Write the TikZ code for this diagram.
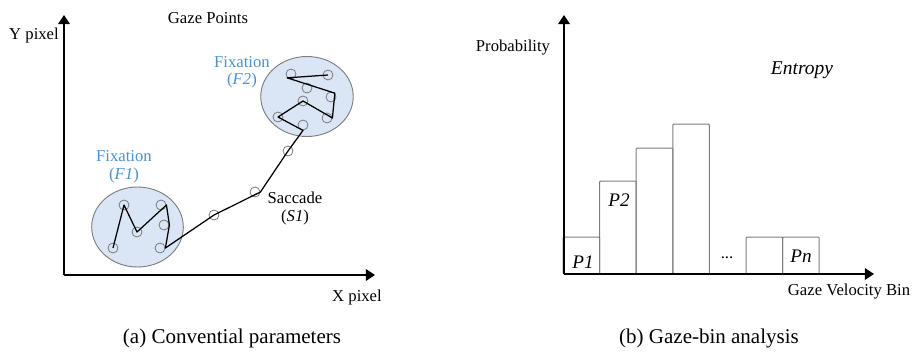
\documentclass[tikz,border=0pt]{standalone}
\usepackage{fontspec}
\setmainfont{Liberation Serif}
\usetikzlibrary{arrows.meta,shapes.geometric}
\definecolor{fixblue}{RGB}{75,145,205}
\definecolor{fixfill}{RGB}{218,230,245}
\definecolor{rimgray}{RGB}{125,125,125}
\tikzset{
  axis/.style={line width=0.9pt,-{Triangle[width=7pt,length=5.5pt]}},
  gazept/.style={circle,draw=rimgray,line width=0.5pt,minimum size=6pt,inner sep=0pt},
  fixzone/.style={ellipse,draw=rimgray,fill=fixfill,line width=0.55pt,minimum width=55pt,minimum height=48pt,inner sep=0pt},
  scanpath/.style={line width=0.75pt,line join=round},
  binbox/.style={draw=rimgray,line width=0.6pt,rounded corners=0.6pt},
  fixlabel/.style={text=fixblue,font=\fontsize{10}{12}\selectfont},
  axlabel/.style={font=\fontsize{10}{12}\selectfont},
  caption/.style={font=\fontsize{12.6}{15}\selectfont}
}
\begin{document}
\begin{tikzpicture}[x=0.6pt,y=-0.6pt]
  \useasboundingbox (0,0) rectangle (912,353);
  % conventional parameters
  \node[fixzone] (f1) at (137.5,227) {};
  \node[fixzone,minimum width=55.5pt] (f2) at (307,96.5) {};
  \coordinate (o1) at (64,275);
  \coordinate (ytip1) at (64,15);
  \coordinate (xtip1) at (375,275);
  \draw[axis] (o1) -- (ytip1);
  \draw[axis] (o1) -- (xtip1);
  \node[gazept] (c1) at (113,248) {};
  \node[gazept] (c2) at (124,205) {};
  \node[gazept] (c3) at (137,232) {};
  \node[gazept] (c4) at (161,205) {};
  \node[gazept] (c5) at (164,225) {};
  \node[gazept] (c6) at (160,248) {};
  \node[gazept] (s1) at (214,215) {};
  \node[gazept] (s2) at (255,192) {};
  \node[gazept] (s3) at (288,151) {};
  \node[gazept] (a1) at (291,74) {};
  \node[gazept] (a2) at (328,75) {};
  \node[gazept] (a3) at (307,88) {};
  \node[gazept] (a4) at (331,97) {};
  \node[gazept] (a5) at (303,101) {};
  \node[gazept] (a6) at (278,117) {};
  \node[gazept] (a7) at (327,118) {};
  \node[gazept] (a8) at (303,125) {};
  \draw[scanpath] (c1.center) -- (c2.center) -- (c3.center) -- (c4.east) -- (c5.east) -- (c6.east)
    -- (s1.center) -- (s2.east) -- (s3.center) -- (a8.south) -- (a6.center) -- (a5.center)
    -- (a7.east) -- (a4.north east) -- (a1.south west) -- (a2.center);
  \node[axlabel] (ylab1) at (34,35) {Y pixel};
  \node[axlabel] (xlab1) at (357,297) {X pixel};
  \node[axlabel] (title1) at (208,18) {Gaze Points};
  \node[fixlabel] (fix1) at (124,156) {Fixation};
  \node[fixlabel] (fix1id) at (124,175) {(\textit{F1})};
  \node[fixlabel] (fix2) at (242,62) {Fixation};
  \node[fixlabel] (fix2id) at (242,80) {(\textit{F2})};
  \node[axlabel] (sac) at (295,198) {Saccade};
  \node[axlabel] (sacid) at (295,217) {(\textit{S1})};
  \node[caption] (capa) at (232,338) {(a) Convential parameters};
  % gaze-bin analysis
  \foreach \lx/\ty in {563/237,599.6/181,636.2/148,672.8/124,746/237,782.6/237}
    \draw[binbox] (\lx,274) rectangle ++(36.6,\ty-274);
  \coordinate (o2) at (564,274);
  \coordinate (ytip2) at (564,15);
  \coordinate (xtip2) at (874,274);
  \draw[axis] (o2) -- (ytip2);
  \draw[axis] (o2) -- (xtip2);
  \node[font=\fontsize{11.5}{13}\selectfont\itshape] (p1) at (583,262) {P1};
  \node[font=\fontsize{11.5}{13}\selectfont\itshape] (p2) at (619,200) {P2};
  \node[font=\fontsize{11.5}{13}\selectfont\itshape] (pn) at (801,256) {Pn};
  \node[axlabel] (dots) at (727,258) {...};
  \node[axlabel] (ylab2) at (513,48) {Probability};
  \node[axlabel] (xlab2) at (849,292) {Gaze Velocity Bin};
  \node[font=\fontsize{11.7}{14}\selectfont\itshape] (ent) at (802,70) {Entropy};
  \node[caption] (capb) at (709,338) {(b) Gaze-bin analysis};
\end{tikzpicture}
\end{document}
